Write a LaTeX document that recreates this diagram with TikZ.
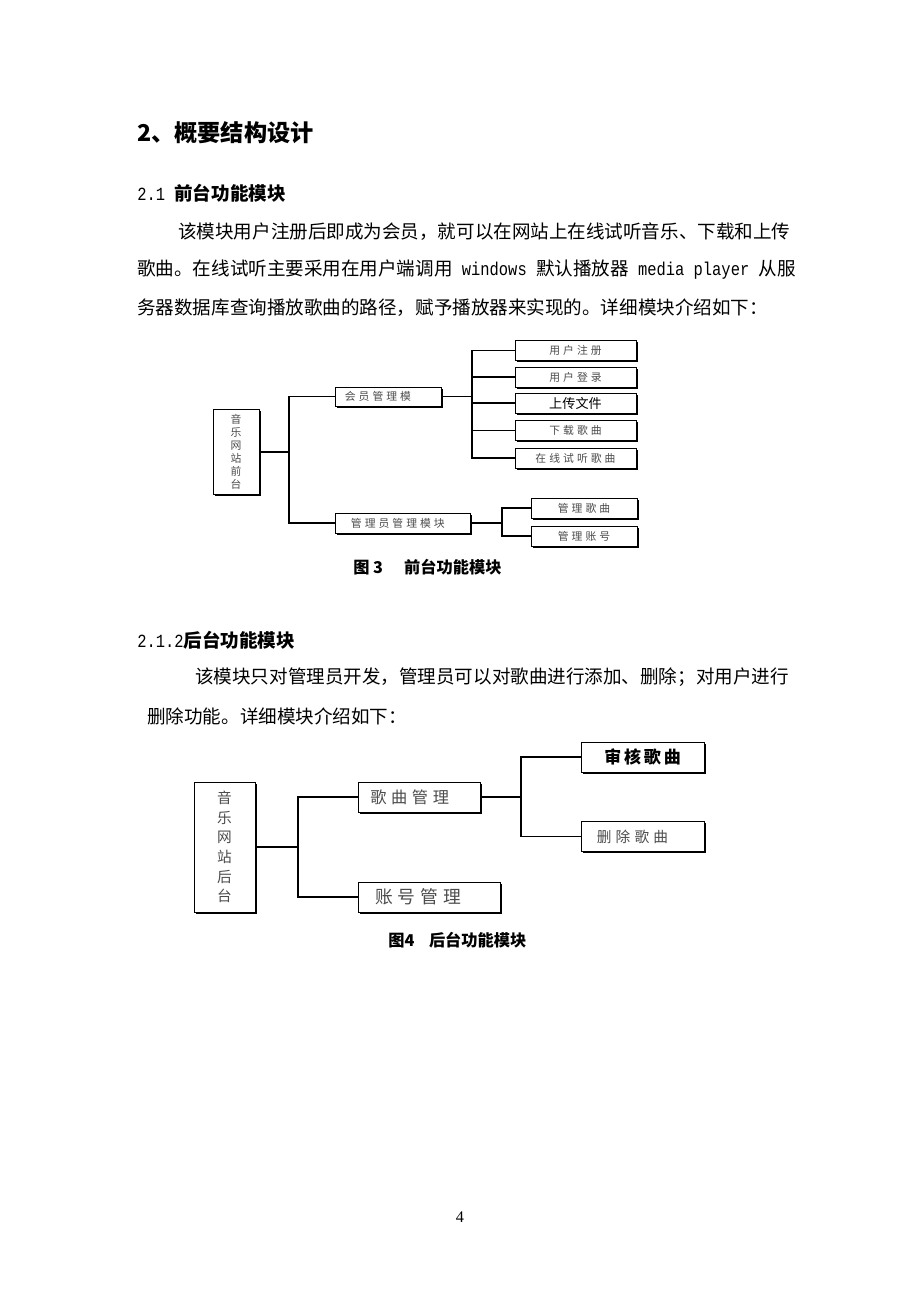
\documentclass[tikz,border=0pt]{standalone}
\usepackage{fontspec}
\setmainfont{Liberation Serif}
\newfontfamily\cjk{Noto Sans CJK SC}
\newfontfamily\cjkbox[LetterSpace=28]{Noto Sans CJK SC}
\newfontfamily\mono[FakeStretch=0.833]{Liberation Mono}
\usetikzlibrary{shadows}

\tikzstyle{modbox} = [rectangle, draw = black, line width = 0.6pt, fill = white, inner sep = 0pt, text = black!70, drop shadow = {shadow xshift = 1pt, shadow yshift = -1pt, fill = black, opacity = 1}]
\tikzstyle{smallbox} = [modbox, font = \cjkbox\fontsize{7}{8.4}\selectfont]
\tikzstyle{bigbox} = [modbox, font = \cjkbox\fontsize{10.5}{12.7}\selectfont]
\tikzstyle{link} = [line width = 1pt]
\tikzstyle{bodytext} = [anchor = west, inner sep = 0pt, font = \cjk\fontsize{12}{14}\selectfont]
\tikzstyle{headtext} = [anchor = west, inner sep = 0pt, font = \cjk\bfseries\fontsize{12}{14}\selectfont]
\tikzstyle{captext} = [anchor = west, inner sep = 0pt, font = \cjk\bfseries\fontsize{10.5}{12}\selectfont]

\begin{document}
\begin{tikzpicture}[x = 0.647pt, y = -0.647pt]

    \useasboundingbox[fill = white] (0,0) rectangle (920,1302);

    % text of the page
    \node(title)[anchor = west, inner sep = 0pt, font = \cjk\bfseries\fontsize{15}{18}\selectfont] at (137,133) {2、概要结构设计};
    \node(sec1)[headtext] at (137,193) {{\mdseries\mono 2.1\ }前台功能模块};
    \node(p1a)[bodytext] at (178,232) {该模块用户注册后即成为会员，就可以在网站上在线试听音乐、下载和上传};
    \node(p1b)[bodytext] at (137,270) {歌曲。在线试听主要采用在用户端调用{\mono\ windows\ }默认播放器{\mono\ media player\ }从服};
    \node(p1c)[bodytext] at (137,308) {务器数据库查询播放歌曲的路径，赋予播放器来实现的。详细模块介绍如下：};

    % front end modules
    \node(front)[smallbox, minimum width = 29.8pt, minimum height = 55pt, align = center] at (236,452) {音\\乐\\网\\站\\前\\台};
    \node(member)[smallbox, minimum width = 68.6pt, minimum height = 12.3pt] at (388,396.5) {会员管理模\hspace*{13pt}};
    \node(admin)[smallbox, minimum width = 87.3pt, minimum height = 12.9pt] at (402.5,523) {管理员管理模块\hspace*{6pt}};
    \node(reg)[smallbox, minimum width = 78.3pt, minimum height = 12.9pt] at (575.5,350.5) {用户注册};
    \node(login)[smallbox, minimum width = 78.3pt, minimum height = 12.9pt] at (575.5,377) {用户登录};
    \node(upload)[smallbox, text = black, font = \cjk\fontsize{8.5}{10}\selectfont, minimum width = 78.3pt, minimum height = 12.9pt] at (575.5,403) {上传文件};
    \node(download)[smallbox, minimum width = 78.3pt, minimum height = 12.9pt] at (575.5,430.5) {下载歌曲};
    \node(listen)[smallbox, minimum width = 78.3pt, minimum height = 12.9pt] at (575.5,458) {在线试听歌曲};
    \node(mgsong)[smallbox, minimum width = 68.6pt, minimum height = 12.9pt] at (584,508) {管理歌曲};
    \node(mgacct)[smallbox, minimum width = 68.6pt, minimum height = 12.9pt] at (584,536) {管理账号};

    \coordinate(fj) at (289,452);
    \coordinate(mj) at (472,396.5);
    \coordinate(aj) at (502,523);

    \draw[link](front) -- (fj);
    \draw[link](member.west) -| (fj) |- (admin.west);
    \draw[link](member) -- (mj);
    \foreach \n in {reg, login, upload, download, listen}
        \draw[link](mj) |- (\n.west);
    \draw[link](admin) -- (aj);
    \draw[link](mgsong.west) -| (aj) |- (mgacct.west);

    \node(cap1)[captext] at (353,567) {图 3\hspace{1.3em}前台功能模块};

    \node(sec2)[headtext] at (137,640) {{\mdseries\mono 2.1.2}后台功能模块};
    \node(p2a)[bodytext] at (195,677) {该模块只对管理员开发，管理员可以对歌曲进行添加、删除；对用户进行};
    \node(p2b)[bodytext] at (147,716) {删除功能。详细模块介绍如下：};

    % back end modules
    \node(back)[bigbox, minimum width = 39.5pt, minimum height = 84.1pt, align = center, font = \cjkbox\fontsize{9.5}{12.7}\selectfont] at (224.5,847) {音\\乐\\网\\站\\后\\台};
    \node(song)[bigbox, minimum width = 78.9pt, minimum height = 19.4pt] at (419,797) {歌曲管理\hspace*{12pt}};
    \node(acct)[bigbox, font = \cjkbox\fontsize{11.5}{13}\selectfont, minimum width = 91.9pt, minimum height = 19.4pt] at (429,897) {账号管理\hspace*{14pt}};
    \node(audit)[bigbox, text = black, font = \cjk\bfseries\fontsize{11}{13}\selectfont, minimum width = 79.6pt, minimum height = 19.4pt] at (642.5,757) {审\,核\,歌\,曲};
    \node(delsong)[bigbox, font = \cjkbox\fontsize{9.5}{12}\selectfont, minimum width = 79.6pt, minimum height = 19.4pt] at (642.5,836.5) {删除歌曲\hspace*{13pt}};

    \coordinate(bj) at (298,847);
    \coordinate(sj) at (521,797);

    \draw[link](back) -- (bj);
    \draw[link](song.west) -| (bj) |- (acct.west);
    \draw[link](song) -- (sj);
    \draw[link](audit.west) -| (sj) |- (delsong.west);

    \node(cap2)[captext] at (388,940) {图4\hspace{0.9em}后台功能模块};

    \node(pageno)[font = \fontsize{10.5}{12}\selectfont] at (460,1217) {4};

\end{tikzpicture}
\end{document}
